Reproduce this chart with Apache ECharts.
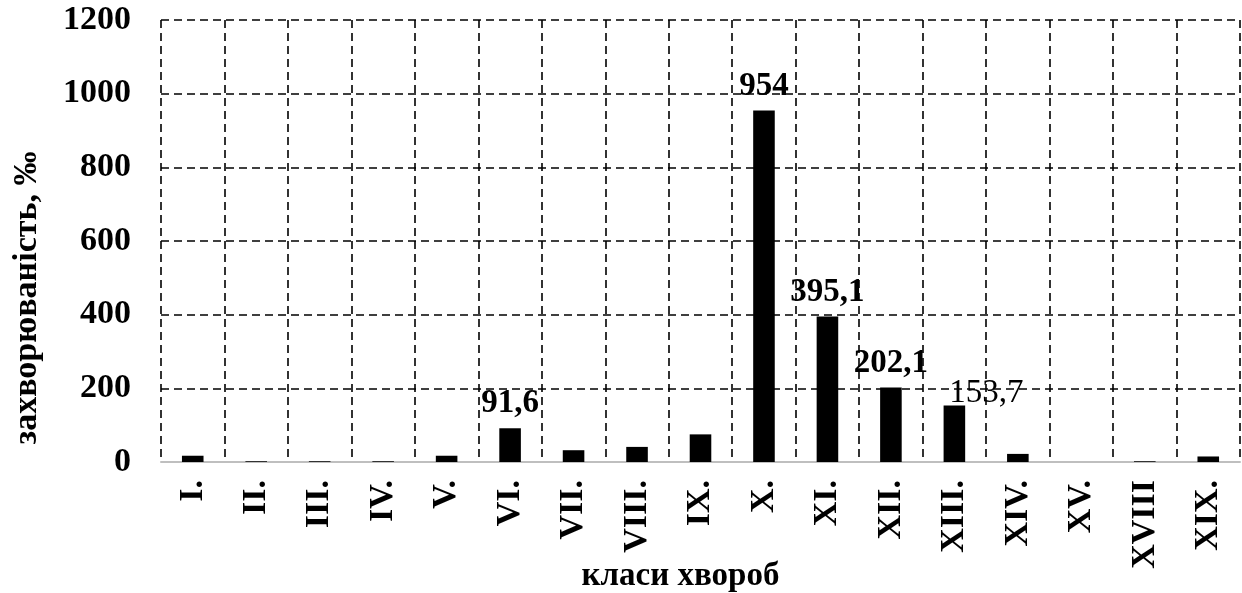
<!DOCTYPE html>
<html>
<head>
<meta charset="utf-8">
<script src="https://cdn.jsdelivr.net/npm/echarts@6/dist/echarts.min.js"></script>
<style>
  html, body { margin: 0; padding: 0; background: #fff; }
  #chart { width: 1242px; height: 593px; }
</style>
</head>
<body>
<div id="chart"></div>
<script>
// класи хвороб
var categories = ['I.', 'II.', 'III.', 'IV.', 'V.', 'VI.', 'VII.', 'VIII.', 'IX.', 'X.',
                  'XI.', 'XII.', 'XIII.', 'XIV.', 'XV.', 'XVIII', 'XIX.'];
var values = [17, 2, 2, 2, 17, 91.6, 32, 41, 75, 954, 395.1, 202.1, 153.7, 22, 0, 2, 15];
// which bars carry a value label
var labelled = [false, false, false, false, false, true, false, false, false, true,
                true, true, true, false, false, false, false];
var yTicks = [0, 200, 400, 600, 800, 1000, 1200];

var font = 'Liberation Serif';
var gridLine = { show: true, lineStyle: { color: '#000', width: 1.6, type: [8, 5] } };

var data = values.map(function (v, i) {
    var item = { value: v, label: { show: labelled[i] } };
    if (i === 12) {
        // this label sits to the right of its bar in the original
        item.label.offset = [32, 12];
        item.label.fontWeight = 'normal';
    }
    return item;
});

var myChart = echarts.init(document.getElementById('chart'));
myChart.setOption({
    animation: false,
    grid: { left: 161, right: 2, top: 20, bottom: 131, outerBoundsMode: 'none', containLabel: false },
    xAxis: {
        type: 'category',
        data: categories,
        name: 'класи хвороб',
        nameLocation: 'middle',
        nameGap: 98,
        nameMoveOverlap: false,
        nameTextStyle: { fontFamily: font, fontWeight: 'bold', fontSize: 33, color: '#000', padding: [0, 40, 0, 0] },
        axisLine: { lineStyle: { color: '#bfbfbf', width: 2 } },
        axisTick: { show: false },
        axisLabel: { interval: 0, rotate: 90, margin: 18, fontFamily: font, fontWeight: 'bold', fontSize: 34, color: '#000' },
        splitLine: { show: true, interval: 0, lineStyle: gridLine.lineStyle }
    },
    yAxis: {
        type: 'value',
        min: yTicks[0],
        max: yTicks[yTicks.length - 1],
        interval: 200,
        name: 'захворюваність, ‰',
        nameLocation: 'middle',
        nameGap: 117,
        nameMoveOverlap: false,
        nameTextStyle: { fontFamily: font, fontWeight: 'bold', fontSize: 34, color: '#000', padding: [0, 114, 0, 0] },
        axisLine: { show: false },
        axisTick: { show: false },
        axisLabel: {
            margin: 30, fontFamily: font, fontWeight: 'bold', fontSize: 34, color: '#000',
            formatter: function (v) { return String(v); }
        },
        splitLine: gridLine
    },
    series: [{
        type: 'bar',
        data: data,
        barWidth: '34%',
        itemStyle: { color: '#000' },
        label: {
            position: 'top',
            distance: 8,
            fontFamily: font,
            fontWeight: 'bold',
            fontSize: 33,
            color: '#000',
            formatter: function (p) { return String(p.value).replace('.', ','); }
        }
    }]
});
</script>
</body>
</html>
